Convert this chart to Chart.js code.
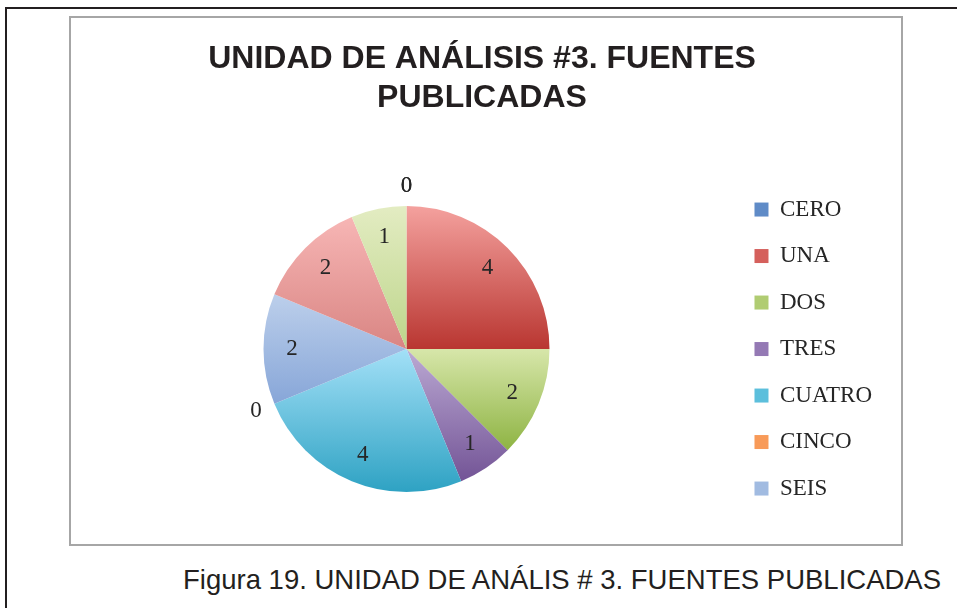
<!DOCTYPE html>
<html>
<head>
<meta charset="utf-8">
<script src="https://cdn.jsdelivr.net/npm/chart.js@4.4.0/dist/chart.umd.min.js"></script>
<style>
  html, body { margin: 0; padding: 0; background: #fff; width: 957px; height: 608px; overflow: hidden; }
  #frame { position: absolute; left: 5px; top: 7px; width: 970px; height: 620px; border-top: 2px solid #231f20; border-left: 2px solid #231f20; }
  #box { position: absolute; left: 69px; top: 16px; width: 830px; height: 526px; border: 2px solid #a6a6a6; }
  #wrap { position: absolute; left: 71px; top: 18px; width: 830px; height: 526px; }
  #caption { position: absolute; left: 183px; top: 563px; white-space: nowrap; font: 27.5px "Liberation Sans", Arial, sans-serif; color: #231f20; line-height: 34px; }
</style>
</head>
<body>
<div id="frame"></div>
<div id="box"></div>
<div id="wrap"><canvas id="myChart"></canvas></div>
<div id="caption">Figura 19. UNIDAD DE ANÁLIS # 3. FUENTES PUBLICADAS</div>
<script>
// datos
const categorias = ['CERO', 'UNA', 'DOS', 'TRES', 'CUATRO', 'CINCO', 'SEIS', 'SIETE', 'OCHO', 'NUEVE'];
const valores = [0, 4, 2, 1, 4, 0, 2, 2, 1, 0];

// colores (arriba claro, abajo oscuro)
const colorArriba = ['#a9c1e3', '#f4a19e', '#d7e6aa', '#bba9d3', '#a3e0f7', '#fbb88a', '#bccfeb', '#f7b6b5', '#e3ecc2', '#cdbfe0'];
const colorAbajo = ['#3e6fb0', '#b93631', '#8eb443', '#735496', '#2ea2c3', '#f58333', '#87a6d8', '#d98583', '#bdd58b', '#a693c6'];
const colorLeyenda = ['#5f8bc7', '#d5605c', '#b0cc72', '#9479b4', '#5cbfdc', '#f89a58', '#a1bbe1', '#e89d9b', '#d1e1a7', '#b8a8d3'];

const RADIO = 143;

function sliceGradient(context) {
  const chart = context.chart;
  const i = context.dataIndex;
  const area = chart.chartArea;
  if (!area) return colorLeyenda[i];
  const cx = (area.left + area.right) / 2;
  const cy = (area.top + area.bottom) / 2;
  const total = valores.reduce((a, b) => a + b, 0);
  let acum = 0;
  for (let k = 0; k < i; k++) acum += valores[k];
  const a0 = -Math.PI / 2 + 2 * Math.PI * acum / total;
  const a1 = a0 + 2 * Math.PI * valores[i] / total;
  const ys = [cy, cy + RADIO * Math.sin(a0), cy + RADIO * Math.sin(a1)];
  [-Math.PI / 2, Math.PI / 2, 3 * Math.PI / 2].forEach(a => {
    if (a > a0 && a < a1) ys.push(cy + RADIO * Math.sin(a));
  });
  const top = Math.min(...ys);
  let bottom = Math.max(...ys);
  if (bottom - top < 1) bottom = top + 1;
  const g = chart.ctx.createLinearGradient(0, top, 0, bottom);
  g.addColorStop(0, colorArriba[i]);
  g.addColorStop(1, colorAbajo[i]);
  return g;
}

// etiquetas de valor sobre cada sector
const valueLabels = {
  id: 'valueLabels',
  afterDatasetsDraw(chart) {
    const ctx = chart.ctx;
    const meta = chart.getDatasetMeta(0);
    ctx.save();
    ctx.font = '23px "Liberation Serif", "DejaVu Serif", serif';
    ctx.fillStyle = '#262626';
    ctx.textAlign = 'center';
    ctx.textBaseline = 'middle';
    meta.data.forEach((arc, i) => {
      const p = arc.getProps(['x', 'y', 'startAngle', 'endAngle', 'outerRadius'], true);
      const mid = (p.startAngle + p.endAngle) / 2;
      const v = valores[i];
      const r = v === 0 ? p.outerRadius + 20 : p.outerRadius * 0.8;
      ctx.fillText(String(v), p.x + Math.cos(mid) * r, p.y + Math.sin(mid) * r);
    });
    ctx.restore();
  }
};

const data = {
  labels: categorias,
  datasets: [{
    data: valores,
    backgroundColor: sliceGradient,
    borderWidth: 0,
    radius: RADIO
  }]
};

const config = {
  type: 'pie',
  data: data,
  plugins: [valueLabels],
  options: {
    responsive: true,
    maintainAspectRatio: false,
    animation: false,
    events: [],
    layout: { padding: { left: 11, right: 19, top: 0, bottom: 5 } },
    plugins: {
      tooltip: { enabled: false },
      title: {
        display: true,
        text: ['UNIDAD DE ANÁLISIS #3. FUENTES', 'PUBLICADAS'],
        color: '#231f20',
        font: { family: '"Liberation Sans", Arial, sans-serif', size: 32, weight: 'bold', lineHeight: 1.22 },
        padding: { top: 21.5, bottom: 41.5 }
      },
      legend: {
        position: 'right',
        fullSize: false,
        labels: {
          color: '#262626',
          font: { family: '"Liberation Serif", "DejaVu Serif", serif', size: 23 },
          boxWidth: 14,
          boxHeight: 14,
          padding: 23.5,
          filter: (item) => item.index < 7,
          generateLabels: (chart) => categorias.map((c, i) => ({
            text: c,
            fillStyle: colorLeyenda[i],
            strokeStyle: colorLeyenda[i],
            lineWidth: 0,
            fontColor: '#262626',
            hidden: false,
            index: i
          }))
        }
      }
    }
  }
};

const myChart = new Chart(document.getElementById('myChart'), config);
</script>
</body>
</html>
